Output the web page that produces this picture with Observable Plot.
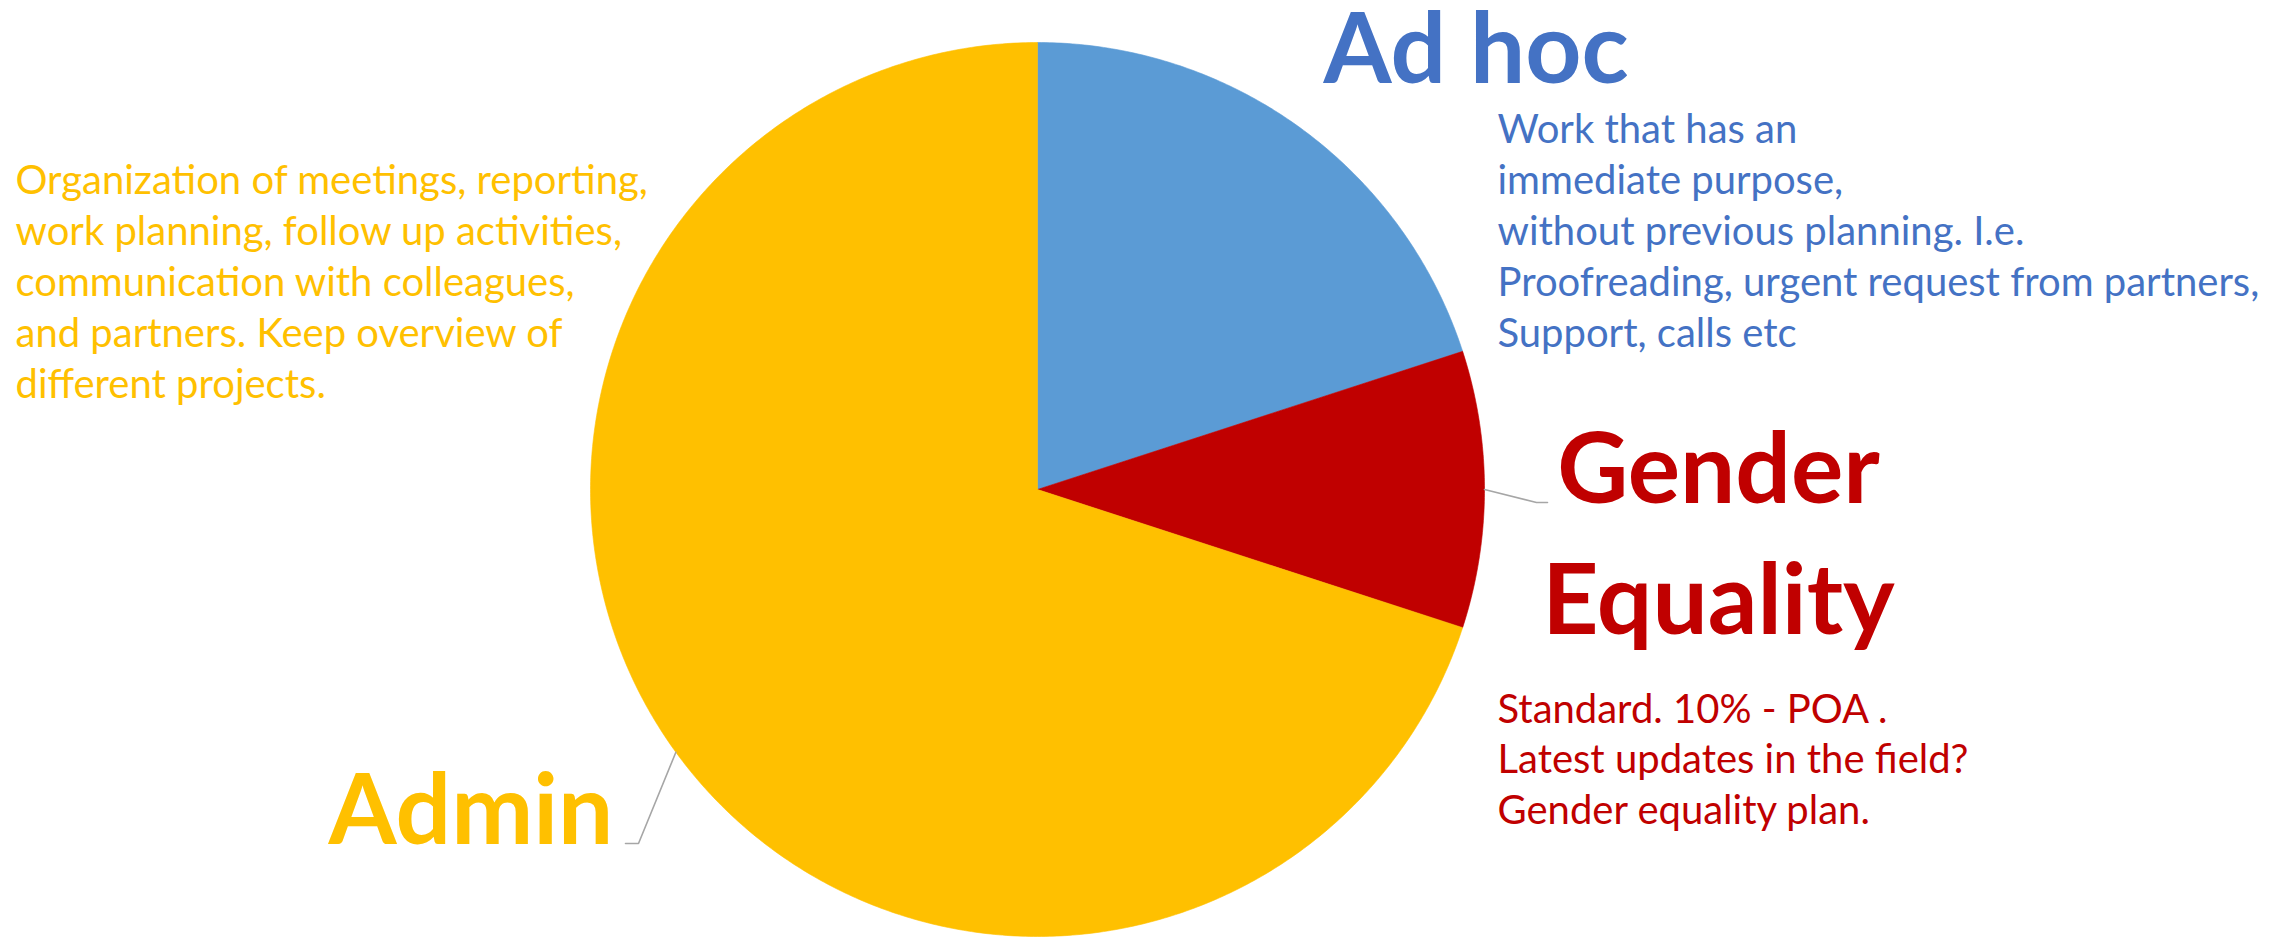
<!DOCTYPE html>
<html>
<head>
<meta charset="utf-8">
<script src="https://cdn.jsdelivr.net/npm/d3@7"></script>
<script src="https://cdn.jsdelivr.net/npm/@observablehq/plot@0.6"></script>
<style>
  html, body { margin: 0; padding: 0; background: #ffffff; }
  #chart svg { display: block; }
</style>
</head>
<body>
<div id="chart"></div>
<script>
// ---------- data ----------
const categories = ["Ad hoc", "Gender Equality", "Admin"];
const shares = [20, 10, 70];
const sliceColors = ["#5B9BD5", "#C00000", "#FFC000"];
const textColors = ["#4472C4", "#C00000", "#FFC000"];
const titleLines = [["Ad hoc"], ["Gender", "Equality"], ["Admin"]];
const descLines = [
  ["Work that has an", "immediate purpose,", "without previous planning. I.e.",
   "Proofreading, urgent request from partners,", "Support, calls etc"],
  ["Standard. 10% - POA .", "Latest updates in the field?", "Gender equality plan."],
  ["Organization of meetings, reporting,", "work planning, follow up activities,",
   "communication with colleagues,", "and partners. Keep overview of", "different projects."]
];

// ---------- layout (pixels) ----------
const W = 2283, H = 939, CX = 1037, CY = 489, R = 447;
const titleLayout = [
  {x: 1323, y0: 82, step: 0, anchor: "start"},
  {x: 1718, y0: 502, step: 131, anchor: "middle"},
  {x: 328, y0: 843, step: 0, anchor: "start"}
];
const descLayout = [
  {x: 1497, y0: 142, step: 51.2},
  {x: 1497, y0: 722, step: 50.5},
  {x: 15, y0: 193, step: 51.2}
];
const leaderLayout = [
  null,
  [[1536, 502], [1547, 502]],
  [[638, 843], [625, 843]]
];
const titleSize = 98, descSize = 40;

// pixel -> unit coordinates (pie radius = 1)
const ux = px => (px - CX) / R;
const uy = py => (CY - py) / R;

// ---------- pie geometry from data ----------
const arcs = d3.pie().sort(null).value(d => d)(shares);
const slicePts = [];
arcs.forEach((a, i) => {
  const name = categories[i];
  const n = Math.max(2, Math.ceil((a.endAngle - a.startAngle) / (Math.PI / 360)));
  slicePts.push({name, x: 0, y: 0});
  for (let k = 0; k <= n; k++) {
    const t = a.startAngle + (a.endAngle - a.startAngle) * k / n;
    slicePts.push({name, x: Math.sin(t), y: Math.cos(t)});
  }
  slicePts.push({name, x: 0, y: 0});
});
const outlinePts = d3.range(0, 721).map(k => {
  const t = 2 * Math.PI * k / 720;
  return {x: Math.sin(t), y: Math.cos(t)};
});

// leader lines
const leaderPts = [];
arcs.forEach((a, i) => {
  const L = leaderLayout[i];
  if (!L) return;
  const m = (a.startAngle + a.endAngle) / 2;
  leaderPts.push({name: categories[i], x: Math.sin(m), y: Math.cos(m)});
  L.forEach(([px, py]) => leaderPts.push({name: categories[i], x: ux(px), y: uy(py)}));
});

// text marks, one set per category, with literal colours
const textMarks = categories.flatMap((c, i) => {
  const tl = titleLayout[i], dl = descLayout[i];
  const titles = titleLines[i].map((t, k) => ({text: t, x: ux(tl.x), y: uy(tl.y0 + k * tl.step)}));
  const descs = descLines[i].map((t, k) => ({text: t, x: ux(dl.x), y: uy(dl.y0 + k * dl.step)}));
  return [
    Plot.text(titles, {x: "x", y: "y", text: "text", fill: textColors[i], textAnchor: tl.anchor,
      lineAnchor: "bottom", fontSize: titleSize, fontWeight: "bold"}),
    Plot.text(descs, {x: "x", y: "y", text: "text", fill: textColors[i], textAnchor: "start",
      lineAnchor: "bottom", fontSize: descSize, ariaLabel: "desc"})
  ];
});

const chart = Plot.plot({
  width: W, height: H,
  margin: 0,
  style: {background: "#ffffff", fontFamily: "Lato, 'Open Sans', sans-serif"},
  x: {domain: [ux(0), ux(W)], range: [0, W], axis: null},
  y: {domain: [uy(H), uy(0)], range: [H, 0], axis: null},
  color: {domain: categories, range: sliceColors},
  marks: [
    Plot.line(outlinePts, {x: "x", y: "y", fill: "#000000", fillOpacity: 0.38, stroke: "none", dx: -2, dy: 3, ariaLabel: "shadow"}),
    Plot.line(slicePts, {x: "x", y: "y", z: "name", fill: "name", stroke: "name", strokeWidth: 0.6}),
    Plot.line(leaderPts, {x: "x", y: "y", z: "name", stroke: "#A6A6A6", strokeWidth: 1.6}),
    ...textMarks
  ]
});

document.getElementById("chart").appendChild(chart);

// blur the shadow copy of the pie
const svg = d3.select(chart);
const defs = svg.append("defs");
defs.append("filter").attr("id", "pieBlur")
  .attr("x", "-20%").attr("y", "-20%").attr("width", "140%").attr("height", "140%")
  .append("feGaussianBlur").attr("stdDeviation", 4);
svg.select("g[aria-label=shadow]").attr("filter", "url(#pieBlur)");

// final period of the Admin description is dark red in the original
svg.selectAll("g[aria-label=desc] text").each(function () {
  const el = d3.select(this);
  if (el.text() === "different projects.") {
    el.text("different projects");
    el.append("tspan").attr("fill", "#C00000").text(".");
  }
});
</script>
</body>
</html>
